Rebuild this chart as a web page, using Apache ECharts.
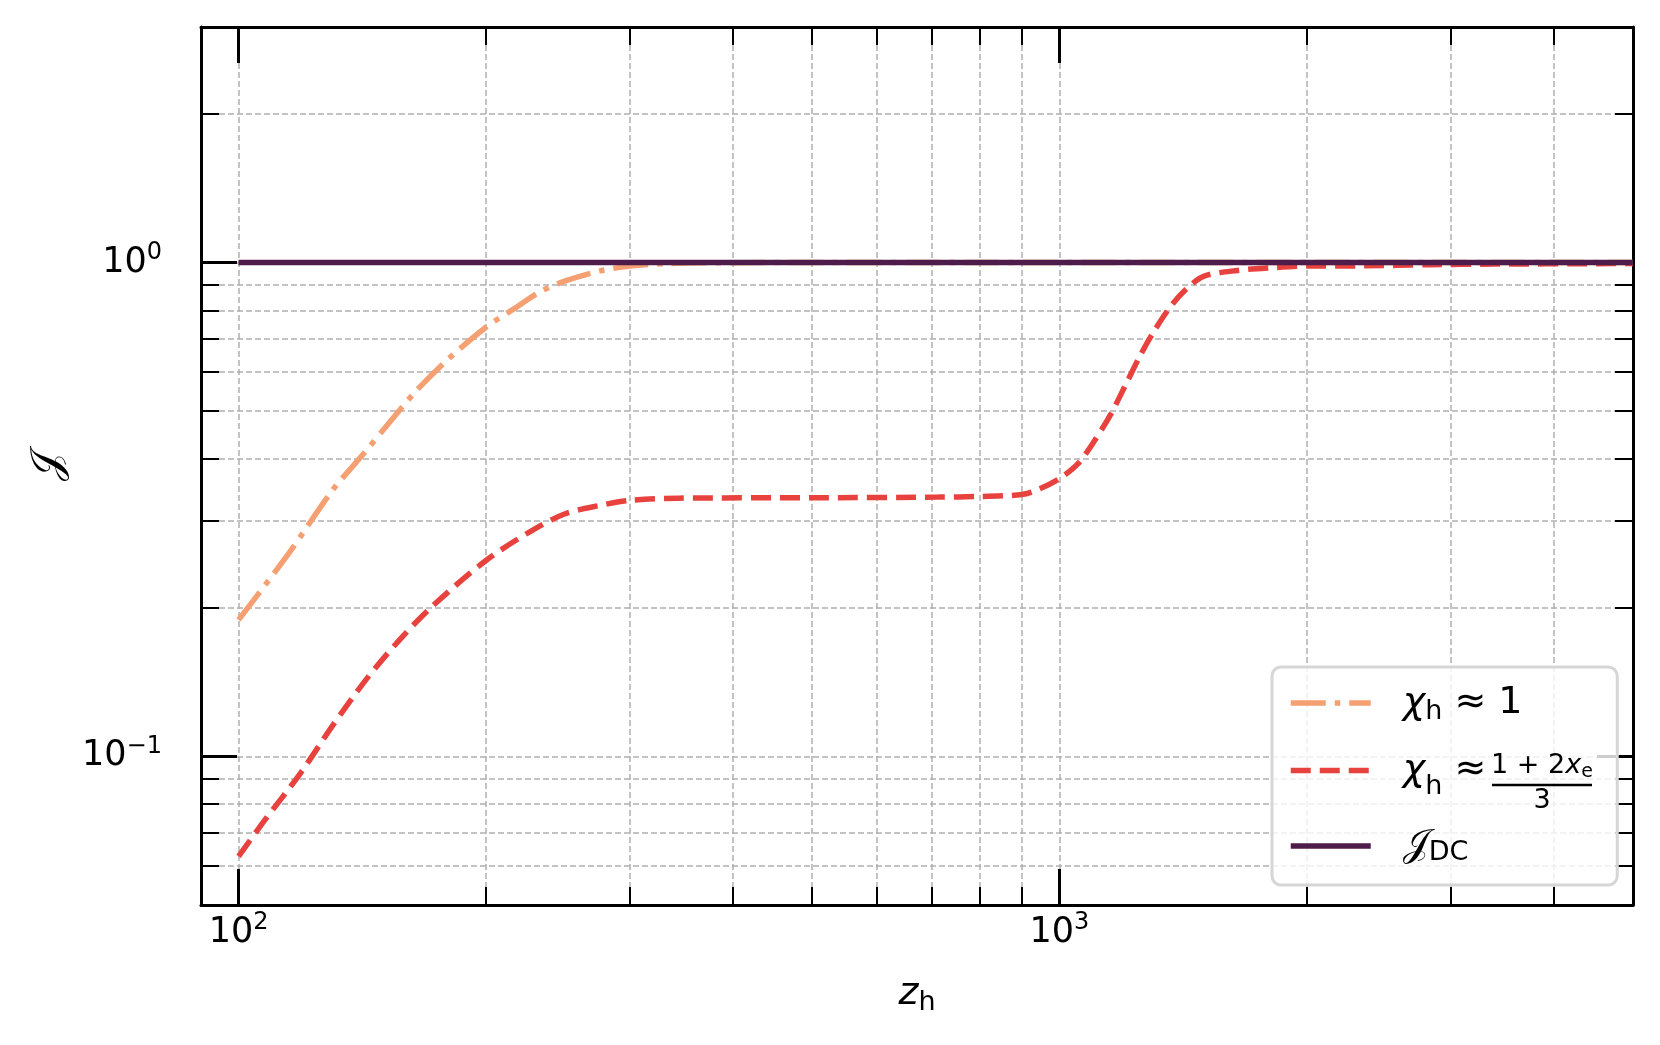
<!DOCTYPE html>
<html>
<head>
<meta charset="utf-8">
<title>J vs z_h</title>
<script src="https://cdn.jsdelivr.net/npm/echarts@6/dist/echarts.min.js"></script>
<style>
  html, body { margin: 0; padding: 0; background: #fff; }
  #chart { width: 1660px; height: 1045px; }
</style>
</head>
<body>
<div id="chart"></div>
<script>
// values (z_h, J)
const zOrange = [100, 115, 130, 142, 151, 164, 179, 200, 216, 234, 250, 275, 300, 331, 380, 500, 1000, 5000]
const jOrange = [0.189, 0.257, 0.345, 0.41, 0.464, 0.546, 0.632, 0.739, 0.804, 0.876, 0.918, 0.961, 0.984, 0.995, 0.999, 1.0, 1.0, 1.0]

const zRed = [100, 107, 119, 130, 143, 157, 172, 200, 228, 250, 275, 300, 344, 500, 712, 800, 900, 942, 1000, 1053, 1104, 1156, 1211, 1257, 1305, 1368, 1433, 1501, 1648, 1809, 2000, 2350, 2830, 3410, 4520, 5000]
const jRed = [0.0627, 0.0733, 0.0925, 0.115, 0.143, 0.172, 0.201, 0.249, 0.287, 0.31, 0.322, 0.33, 0.3334, 0.334, 0.335, 0.336, 0.339, 0.347, 0.365, 0.391, 0.436, 0.494, 0.576, 0.652, 0.727, 0.817, 0.889, 0.939, 0.964, 0.976, 0.984, 0.985, 0.99, 0.993, 0.995, 0.996]

const zDC = [100, 5000]
const jDC = [1, 1]

// axis ranges and ticks (data units, log scale)
const xRange = [90, 5000]
const yRange = [0.05, 3]
const xMajor = [100, 1000]
const xMinor = [200, 300, 400, 500, 600, 700, 800, 900, 2000, 3000, 4000]
const yMajor = [0.1, 1]
const yMinor = [0.06, 0.07, 0.08, 0.09, 0.2, 0.3, 0.4, 0.5, 0.6, 0.7, 0.8, 0.9, 2]

const seriesNames = ['χh ≈ 1', 'χh ≈ (1 + 2xe)/3', '𝒥DC']
const colors = ['#f5a072', '#e8423f', '#4e1c4b']

const FONT = 'DejaVu Sans'
const LW = 5.5
const lg = v => Math.log10(v)
const toPairs = (xs, ys) => xs.map((x, i) => [lg(x), lg(ys[i])])

const gridLine = { show: true, lineStyle: { color: '#b0b0b0', width: 1.5, type: [6, 3] } }
const tickRich = {
  b: { fontFamily: FONT, fontSize: 35, lineHeight: 44, color: '#000' },
  s: { fontFamily: FONT, fontSize: 24, lineHeight: 26, verticalAlign: 'top', color: '#000' }
}
const supLabel = v => {
  const p = Math.round(v)
  return '{b|10}{s|' + (p < 0 ? '−' + (-p) : p) + '}'
}

function makeAxis(pos, range, ticks, major, extra) {
  return Object.assign({
    type: 'value',
    position: pos,
    min: lg(range[0]),
    max: lg(range[1]),
    axisLine: { show: major, onZero: false, lineStyle: { color: '#000', width: 3 } },
    axisTick: {
      show: true,
      inside: true,
      customValues: ticks.map(lg),
      length: major ? 36 : 18,
      lineStyle: { color: '#000', width: major ? 3 : 2 }
    },
    axisLabel: { show: false },
    splitLine: (pos === 'bottom' || pos === 'left') ? gridLine : { show: false }
  }, extra || {})
}

const legendRich = {
  c1: { fontFamily: FONT, fontSize: 38, fontStyle: 'italic', lineHeight: 44, padding: [0, 0, 0, 27] },
  h1: { fontFamily: FONT, fontSize: 27, lineHeight: 24, verticalAlign: 'bottom' },
  t1: { fontFamily: FONT, fontSize: 38, lineHeight: 44 },
  c2: { fontFamily: FONT, fontSize: 38, fontStyle: 'italic', lineHeight: 60, padding: [0, 0, 0, 27] },
  h2: { fontFamily: FONT, fontSize: 27, lineHeight: 40, verticalAlign: 'bottom' },
  t2: { fontFamily: FONT, fontSize: 38, lineHeight: 60 },
  f2: { fontFamily: FONT, fontSize: 38, lineHeight: 60, width: 110 },
  j3: { fontFamily: FONT, fontSize: 38, lineHeight: 40, padding: [0, 0, 0, 27] },
  d3: { fontFamily: FONT, fontSize: 27, lineHeight: 20, verticalAlign: 'bottom' }
}
const legendText = {}
legendText[seriesNames[0]] = '{c1|χ}{h1|h}{t1| ≈ 1}'
legendText[seriesNames[1]] = '{c2|χ}{h2|h}{t2| ≈}{f2| }'
legendText[seriesNames[2]] = '{j3|𝒥}{d3|DC}'

const chart = echarts.init(document.getElementById('chart'))
chart.setOption({
  animation: false,
  backgroundColor: '#fff',
  grid: { left: 201, right: 27, top: 27, bottom: 140, outerBoundsMode: 'none' },
  xAxis: [
    makeAxis('bottom', xRange, xMajor, true, {
      axisLabel: { show: true, customValues: xMajor.map(lg), margin: 6, formatter: supLabel, rich: tickRich },
      name: '{z|z}{h|h}',
      nameLocation: 'middle',
      nameGap: 67,
      nameTextStyle: {
        rich: {
          z: { fontFamily: FONT, fontSize: 38, fontStyle: 'italic', lineHeight: 44, color: '#000' },
          h: { fontFamily: FONT, fontSize: 27, lineHeight: 24, verticalAlign: 'bottom', color: '#000' }
        }
      }
    }),
    makeAxis('bottom', xRange, xMinor, false),
    makeAxis('top', xRange, xMajor, true),
    makeAxis('top', xRange, xMinor, false)
  ],
  yAxis: [
    makeAxis('left', yRange, yMajor, true, {
      axisLabel: { show: true, customValues: yMajor.map(lg), margin: 39, formatter: supLabel, rich: tickRich },
      name: '𝒥',
      nameLocation: 'middle',
      nameRotate: 90,
      nameGap: 131,
      nameTextStyle: { fontFamily: FONT, fontSize: 42, color: '#000' }
    }),
    makeAxis('left', yRange, yMinor, false),
    makeAxis('right', yRange, yMajor, true),
    makeAxis('right', yRange, yMinor, false)
  ],
  legend: {
    data: seriesNames,
    orient: 'vertical',
    left: 1272,
    top: 667,
    itemWidth: 80,
    itemHeight: 14,
    itemGap: 26.5,
    padding: [17, 21, 19, 16],
    backgroundColor: 'rgba(255,255,255,0.8)',
    borderColor: '#d6d6d6',
    borderWidth: 3,
    borderRadius: 9,
    selectedMode: false,
    itemStyle: { opacity: 0 },
    lineStyle: { width: LW },
    formatter: name => legendText[name],
    textStyle: { color: '#000', fontFamily: FONT, rich: legendRich }
  },
  // fraction part of the second legend entry
  graphic: [
    {
      type: 'text', x: 1542, y: 766, z: 100,
      style: {
        text: '{n|1 + 2}{x|x}{e|e}', align: 'center', verticalAlign: 'middle',
        rich: {
          n: { fontFamily: FONT, fontSize: 27, lineHeight: 32, fill: '#000' },
          x: { fontFamily: FONT, fontSize: 27, fontStyle: 'italic', lineHeight: 32, fill: '#000' },
          e: { fontFamily: FONT, fontSize: 19, lineHeight: 18, verticalAlign: 'bottom', fill: '#000' }
        }
      }
    },
    { type: 'line', z: 100, shape: { x1: 1492, y1: 785, x2: 1592, y2: 785 }, style: { stroke: '#000', lineWidth: 2.5 } },
    {
      type: 'text', x: 1542, y: 801, z: 100,
      style: { text: '3', fontFamily: FONT, fontSize: 27, fill: '#000', align: 'center', verticalAlign: 'middle' }
    }
  ],
  series: [
    {
      name: seriesNames[0], type: 'line', data: toPairs(zOrange, jOrange),
      symbol: 'none', smooth: 0.3,
      itemStyle: { color: colors[0] },
      lineStyle: { color: colors[0], width: LW, type: [35, 9, 5.5, 9] }
    },
    {
      name: seriesNames[1], type: 'line', data: toPairs(zRed, jRed),
      symbol: 'none', smooth: 0.3,
      itemStyle: { color: colors[1] },
      lineStyle: { color: colors[1], width: LW, type: [20, 9] }
    },
    {
      name: seriesNames[2], type: 'line', data: toPairs(zDC, jDC),
      symbol: 'none',
      itemStyle: { color: colors[2] },
      lineStyle: { color: colors[2], width: LW }
    }
  ]
})
</script>
</body>
</html>
